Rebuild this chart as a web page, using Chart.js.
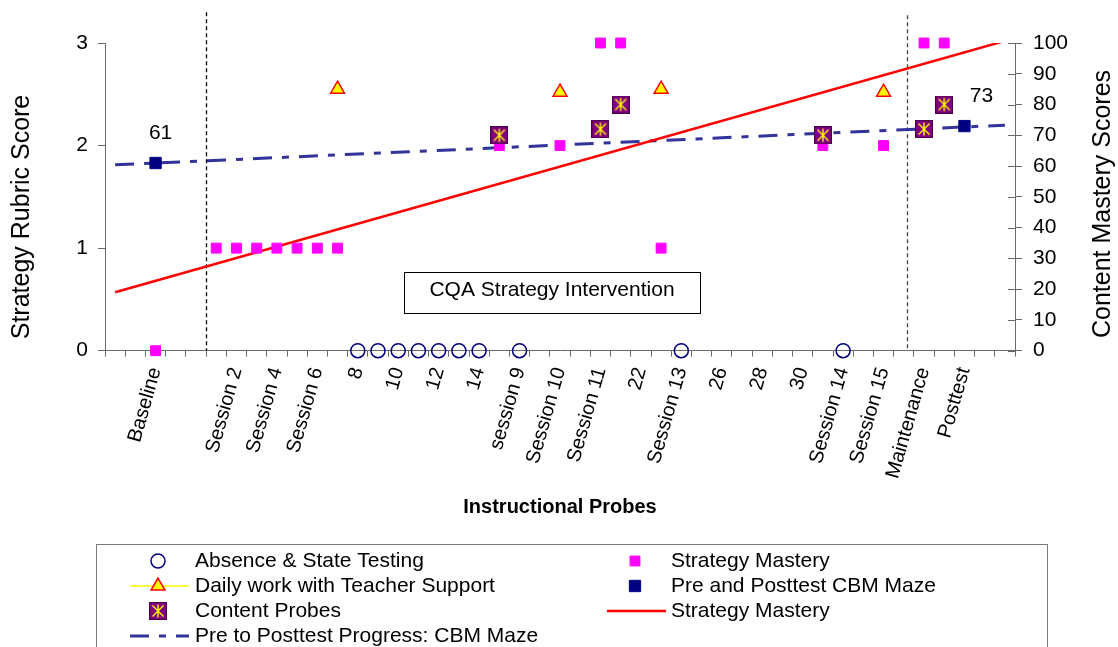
<!DOCTYPE html>
<html>
<head>
<meta charset="utf-8">
<script src="https://cdn.jsdelivr.net/npm/chart.js@4.4.0/dist/chart.umd.min.js"></script>
<style>
body { margin: 0; background: #fff; }
</style>
</head>
<body>
<canvas id="chart" width="1118" height="647"></canvas>
<script>
// x categories (only every other one carries a label in the original)
var probes = ['', '', 'Baseline', '', '', '', 'Session 2', '', 'Session 4', '', 'Session 6', '',
    '8', '', '10', '', '12', '', '14', '', 'session 9', '', 'Session 10', '', 'Session 11', '',
    '22', '', 'Session 13', '', '26', '', '28', '', '30', '', 'Session 14', '', 'Session 15', '',
    'Maintenance', '', 'Posttest', '', ''];

// each series: category index + value
var absenceAt = [12, 13, 14, 15, 16, 17, 18, 20, 28, 36];
var absenceScore = [0, 0, 0, 0, 0, 0, 0, 0, 0, 0];

var masteryAt = [2, 5, 6, 7, 8, 9, 10, 11, 19, 22, 24, 25, 27, 35, 38, 40, 41];
var masteryScore = [0, 1, 1, 1, 1, 1, 1, 1, 2, 2, 3, 3, 1, 2, 2, 3, 3];

var dailyAt = [11, 22, 27, 38];
var dailyScore = [2.55, 2.52, 2.55, 2.52];

var mazeAt = [2, 42];
var mazeScore = [61, 73];

var contentAt = [19, 24, 25, 35, 40, 41];
var contentScore = [70, 72, 80, 70, 72, 80];

var masteryTrendAt = [0, 44];
var masteryTrend = [0.57, 3.02];

var mazeTrendAt = [0, 44];
var mazeTrend = [60.4, 73.3];

var leftTicks = [0, 1, 2, 3];
var rightTicks = [0, 100, 10];   // min, max, step

var axisColor = '#6a6a6a';

function place(at, vals) {
    var a = probes.map(function () { return null; });
    at.forEach(function (k, j) { a[k] = vals[j]; });
    return a;
}

function probeMarker() {
    var c = document.createElement('canvas');
    c.width = 18;
    c.height = 18;
    var g = c.getContext('2d');
    g.fillStyle = '#800080';
    g.fillRect(0, 0, 18, 18);
    g.strokeStyle = '#4b004b';
    g.lineWidth = 1;
    g.strokeRect(0.5, 0.5, 17, 17);
    g.strokeStyle = '#ffff00';
    g.lineWidth = 1.4;
    g.beginPath();
    g.moveTo(9, 2.5); g.lineTo(9, 15.5);
    g.moveTo(3.5, 3.5); g.lineTo(14.5, 14.5);
    g.moveTo(14.5, 3.5); g.lineTo(3.5, 14.5);
    g.stroke();
    return c;
}
var probeImg = probeMarker();

Chart.defaults.font.family = '"Liberation Sans", Arial, sans-serif';
Chart.defaults.color = '#000';

var extras = {
    id: 'extras',
    beforeDatasetsDraw: function (chart, args, opts) {
        var ctx = chart.ctx, x = chart.scales.x, y = chart.scales.y;
        ctx.save();
        // phase change lines
        ctx.lineWidth = 1.3;
        ctx.setLineDash([4, 3]);
        opts.phases.forEach(function (p) {
            var px = Math.round(x.getPixelForValue(p.at)) + 0.5;
            ctx.strokeStyle = p.color;
            ctx.beginPath();
            ctx.moveTo(px, y.getPixelForValue(p.top));
            ctx.lineTo(px, y.bottom);
            ctx.stroke();
        });
        ctx.setLineDash([]);
        // text box
        var b = opts.box;
        var x0 = x.getPixelForValue(b.from), x1 = x.getPixelForValue(b.to);
        var y0 = y.getPixelForValue(b.top), y1 = y.getPixelForValue(b.bottom);
        ctx.fillStyle = '#fff';
        ctx.fillRect(x0, y0, x1 - x0, y1 - y0);
        ctx.strokeStyle = '#000';
        ctx.lineWidth = 1;
        ctx.strokeRect(Math.round(x0) + 0.5, Math.round(y0) + 0.5, Math.round(x1 - x0), Math.round(y1 - y0));
        ctx.fillStyle = '#000';
        ctx.font = '21px "Liberation Sans", Arial, sans-serif';
        ctx.textAlign = 'center';
        ctx.textBaseline = 'middle';
        ctx.fillText(b.text, (x0 + x1) / 2, (y0 + y1) / 2 - 2);
        ctx.restore();
    },
    afterDraw: function (chart, args, opts) {
        var ctx = chart.ctx;
        var y2 = chart.scales.y2;
        ctx.save();

        // inner half of the right axis ticks
        ctx.strokeStyle = axisColor;
        ctx.lineWidth = 1;
        y2.ticks.forEach(function (t) {
            var py = Math.round(y2.getPixelForValue(t.value)) + 0.5;
            ctx.beginPath();
            ctx.moveTo(y2.left - 7, py);
            ctx.lineTo(y2.left, py);
            ctx.stroke();
        });

        // axis titles
        ctx.fillStyle = '#000';
        ctx.font = '25px "Liberation Sans", Arial, sans-serif';
        ctx.textAlign = 'center';
        ctx.textBaseline = 'middle';
        opts.titles.forEach(function (t) {
            ctx.save();
            ctx.translate(t.x, t.y);
            ctx.rotate(-Math.PI / 2);
            ctx.fillText(t.text, 0, 0);
            ctx.restore();
        });

        // value labels next to the CBM maze points
        ctx.font = '21px "Liberation Sans", Arial, sans-serif';
        var maze = chart.data.datasets[3].data;
        chart.getDatasetMeta(3).data.forEach(function (pt, i) {
            if (maze[i] === null) return;
            var dx = i === mazeAt[0] ? 5 : 17;
            ctx.fillText(String(maze[i]), pt.x + dx, pt.y - 30);
        });

        // legend
        var L = opts.legend;
        ctx.strokeStyle = '#7a7a7a';
        ctx.lineWidth = 1;
        ctx.strokeRect(L.left + 0.5, L.top + 0.5, L.right - L.left, 200);
        ctx.font = '21px "Liberation Sans", Arial, sans-serif';
        ctx.textAlign = 'left';
        chart.data.datasets.forEach(function (ds, i) {
            var col = i % 2, row = Math.floor(i / 2);
            var cx = L.colX[col], cy = L.top + 17 + row * 25;
            if (ds.legendLine) {
                ctx.save();
                ctx.strokeStyle = ds.legendLine;
                ctx.lineWidth = ds.borderWidth || 1.5;
                ctx.setLineDash(ds.borderDash || []);
                ctx.beginPath();
                ctx.moveTo(cx - 28, cy);
                ctx.lineTo(cx + 31, cy);
                ctx.stroke();
                ctx.restore();
            }
            if (ds.pointStyle && ds.pointRadius > 0) {
                ctx.save();
                ctx.fillStyle = ds.backgroundColor;
                ctx.strokeStyle = ds.borderColor;
                ctx.lineWidth = ds.borderWidth;
                Chart.helpers.drawPoint(ctx, {
                    pointStyle: ds.pointStyle,
                    radius: ds.pointRadius,
                    rotation: 0,
                    borderWidth: ds.borderWidth
                }, cx, cy);
                ctx.restore();
            }
            ctx.fillStyle = '#000';
            ctx.textBaseline = 'middle';
            ctx.fillText(ds.label, L.textX[col], cy);
        });
        ctx.restore();
    }
};

new Chart(document.getElementById('chart').getContext('2d'), {
    type: 'line',
    data: {
        labels: probes,
        datasets: [{
            label: 'Absence & State Testing',
            data: place(absenceAt, absenceScore),
            yAxisID: 'y',
            showLine: false,
            pointStyle: 'circle',
            pointRadius: 7,
            backgroundColor: 'rgba(255,255,255,0)',
            borderColor: '#000080',
            borderWidth: 1.5,
            clip: false,
            order: 6
        }, {
            label: 'Strategy Mastery',
            data: place(masteryAt, masteryScore),
            yAxisID: 'y',
            showLine: false,
            pointStyle: 'rect',
            pointRadius: 7,
            backgroundColor: '#ff00ff',
            borderColor: '#ff00ff',
            borderWidth: 1,
            clip: false,
            order: 5
        }, {
            label: 'Daily work with Teacher Support',
            data: place(dailyAt, dailyScore),
            yAxisID: 'y',
            showLine: false,
            pointStyle: 'triangle',
            pointRadius: 8,
            backgroundColor: '#ffff00',
            borderColor: '#ff0000',
            borderWidth: 1.5,
            legendLine: '#ffff00',
            clip: false,
            order: 4
        }, {
            label: 'Pre and Posttest CBM Maze',
            data: place(mazeAt, mazeScore),
            yAxisID: 'y2',
            showLine: false,
            pointStyle: 'rect',
            pointRadius: 8,
            backgroundColor: '#000080',
            borderColor: '#000080',
            borderWidth: 1,
            clip: false,
            order: 2
        }, {
            label: 'Content Probes',
            data: place(contentAt, contentScore),
            yAxisID: 'y2',
            showLine: false,
            pointStyle: probeImg,
            pointRadius: 9,
            backgroundColor: '#800080',
            borderColor: '#800080',
            borderWidth: 0,
            clip: false,
            order: 3
        }, {
            label: 'Strategy Mastery',
            data: place(masteryTrendAt, masteryTrend),
            yAxisID: 'y',
            spanGaps: true,
            tension: 0,
            pointRadius: 0,
            borderColor: '#ff0000',
            borderWidth: 2.5,
            legendLine: '#ff0000',
            order: 9
        }, {
            label: 'Pre to Posttest Progress: CBM Maze',
            data: place(mazeTrendAt, mazeTrend),
            yAxisID: 'y2',
            spanGaps: true,
            tension: 0,
            pointRadius: 0,
            borderColor: '#333399',
            borderWidth: 3,
            borderDash: [19, 10, 7, 10],
            legendLine: '#333399',
            order: 10
        }]
    },
    options: {
        responsive: false,
        animation: false,
        events: [],
        layout: { padding: { top: 43, bottom: 127, left: 0, right: 0 } },
        scales: {
            x: {
                offset: true,
                grid: { offset: true, drawOnChartArea: false, tickLength: 6, color: axisColor },
                border: { color: axisColor },
                ticks: { autoSkip: false, minRotation: 74, maxRotation: 74, padding: 8, font: { size: 20 }, color: '#000' },
                title: { display: true, text: 'Instructional Probes', font: { size: 20, weight: 'bold' }, color: '#000', padding: { top: 0, bottom: 1 } },
                afterFit: function (s) { s.height = 169.3; }
            },
            y: {
                position: 'left',
                min: leftTicks[0],
                max: leftTicks[leftTicks.length - 1],
                ticks: { stepSize: 1, padding: 10, font: { size: 21 }, color: '#000' },
                grid: { drawOnChartArea: false, tickLength: 7, color: axisColor },
                border: { color: axisColor },
                afterFit: function (s) { s.width = 105; }
            },
            y2: {
                position: 'right',
                min: rightTicks[0],
                max: rightTicks[1],
                ticks: { stepSize: rightTicks[2], padding: 11, font: { size: 21 }, color: '#000' },
                grid: { drawOnChartArea: false, tickLength: 7, color: axisColor },
                border: { color: axisColor },
                afterFit: function (s) { s.width = 103; }
            }
        },
        plugins: {
            legend: { display: false },
            tooltip: { enabled: false },
            extras: {
                phases: [{ at: 4.5, top: 3.3, color: '#000' }, { at: 39.15, top: 3.27, color: '#444' }],
                box: { from: 14.29, to: 28.92, top: 0.767, bottom: 0.368, text: 'CQA Strategy Intervention' },
                titles: [{ text: 'Strategy Rubric Score', x: 22, y: 217 }, { text: 'Content Mastery Scores', x: 1103, y: 204 }],
                legend: { left: 96, top: 544, right: 1047, colX: [158, 635], textX: [195, 671] }
            }
        }
    },
    plugins: [extras]
});
</script>
</body>
</html>
